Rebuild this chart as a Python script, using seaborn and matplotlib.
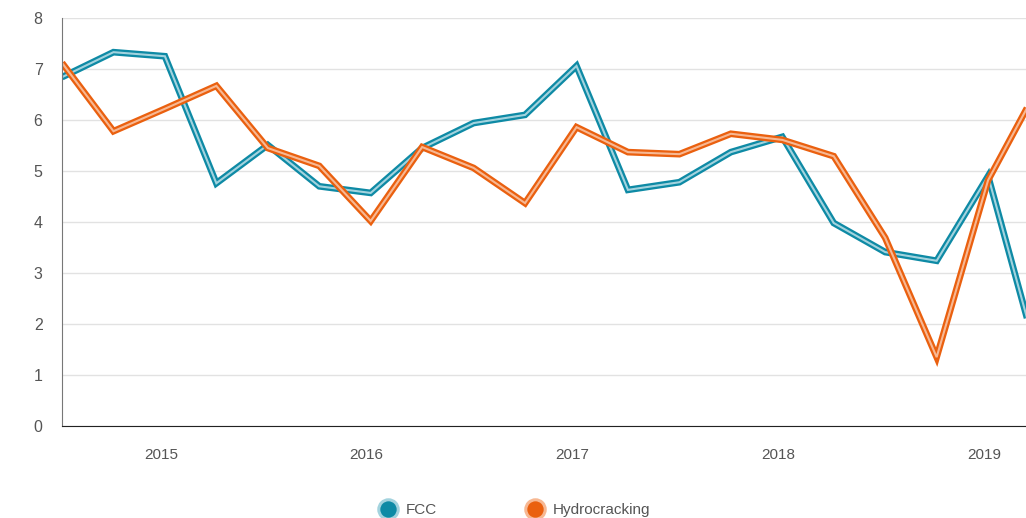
import numpy as np
import pandas as pd
import seaborn as sns
import matplotlib.pyplot as plt
import matplotlib.transforms as mtransforms
from matplotlib.lines import Line2D

# quarterly values, Q4 2014 .. Q3 2019
quarters = ["2014Q4", "2015Q1", "2015Q2", "2015Q3", "2015Q4",
            "2016Q1", "2016Q2", "2016Q3", "2016Q4",
            "2017Q1", "2017Q2", "2017Q3", "2017Q4",
            "2018Q1", "2018Q2", "2018Q3", "2018Q4",
            "2019Q1", "2019Q2", "2019Q3"]
fcc = [6.84, 7.33, 7.25, 4.76, 5.51, 4.70, 4.57, 5.45, 5.94, 6.10,
       7.06, 4.63, 4.78, 5.37, 5.67, 3.98, 3.41, 3.24, 4.90, 1.22]
hydrocracking = [7.12, 5.78, 6.22, 6.67, 5.45, 5.10, 4.02, 5.47, 5.06, 4.37,
                 5.86, 5.37, 5.33, 5.73, 5.61, 5.29, 3.69, 1.35, 4.82, 6.69]
year_labels = ["2015", "2016", "2017", "2018", "2019"]
year_pos = [2, 6, 10, 14, 18]

teal = "#0e8aa5"
teal_light = "#a3d3de"
orange = "#ea600f"
orange_light = "#f7b893"

df = pd.DataFrame({"idx": np.arange(len(quarters)), "quarter": quarters,
                   "FCC": fcc, "Hydrocracking": hydrocracking})

sns.set_style("white")
plt.rcParams["font.family"] = ["Liberation Sans", "DejaVu Sans"]

fig = plt.figure(figsize=(10.26, 5.18), dpi=100)
ax = fig.add_axes([62 / 1026, 1 - 426 / 518, 1 - 62 / 1026, (426 - 18) / 518])

for col, c_out, c_in in [("FCC", teal, teal_light), ("Hydrocracking", orange, orange_light)]:
    sns.lineplot(data=df, x="idx", y=col, color=c_out, linewidth=4.8, ax=ax,
                 solid_joinstyle="miter", solid_capstyle="butt")
    sns.lineplot(data=df, x="idx", y=col, color=c_in, linewidth=1.5, ax=ax,
                 solid_joinstyle="miter", solid_capstyle="butt")

ticks = list(range(len(quarters) - 1))
ax.set_xticks(ticks)
ax.set_xticklabels(["" if i not in year_pos else year_labels[year_pos.index(i)]
                    for i in ticks])
ax.set_yticks(range(0, 9))
ax.set_xlim(0, (1026 - 62) / 51.45)
ax.set_ylim(0, 8)
ax.grid(axis="y", color="#e2e2e2", linewidth=1)
ax.set_axisbelow(True)
ax.set_xlabel("")
ax.set_ylabel("")

for s in ["top", "right"]:
    ax.spines[s].set_visible(False)
ax.spines["left"].set_color("#777777")
ax.spines["bottom"].set_color("#222222")
ax.tick_params(axis="y", direction="in", length=4, color="#444444",
               labelcolor="#555555", labelsize=11.5, pad=14)
ax.tick_params(axis="x", direction="in", length=4, color="#222222",
               labelcolor="#555555", labelsize=11, pad=16)

# year labels sit a little left of their tick in the original
shift = mtransforms.ScaledTranslation(-4 / 100, 0, fig.dpi_scale_trans)
for lbl in ax.get_xticklabels():
    lbl.set_transform(lbl.get_transform() + shift)

handles = [Line2D([], [], linestyle="none", marker="o", markersize=14,
                  markerfacecolor=teal, markeredgecolor=teal_light, markeredgewidth=2.2),
           Line2D([], [], linestyle="none", marker="o", markersize=14,
                  markerfacecolor=orange, markeredgecolor=orange_light, markeredgewidth=2.2)]
fig.legend(handles, ["FCC", "Hydrocracking"], loc="center", bbox_to_anchor=(0.4985, 0.015),
           ncol=2, frameon=False, fontsize=11, labelcolor="#555555",
           columnspacing=5.4, handletextpad=0.15)

fig.savefig("out.png", dpi=100)
